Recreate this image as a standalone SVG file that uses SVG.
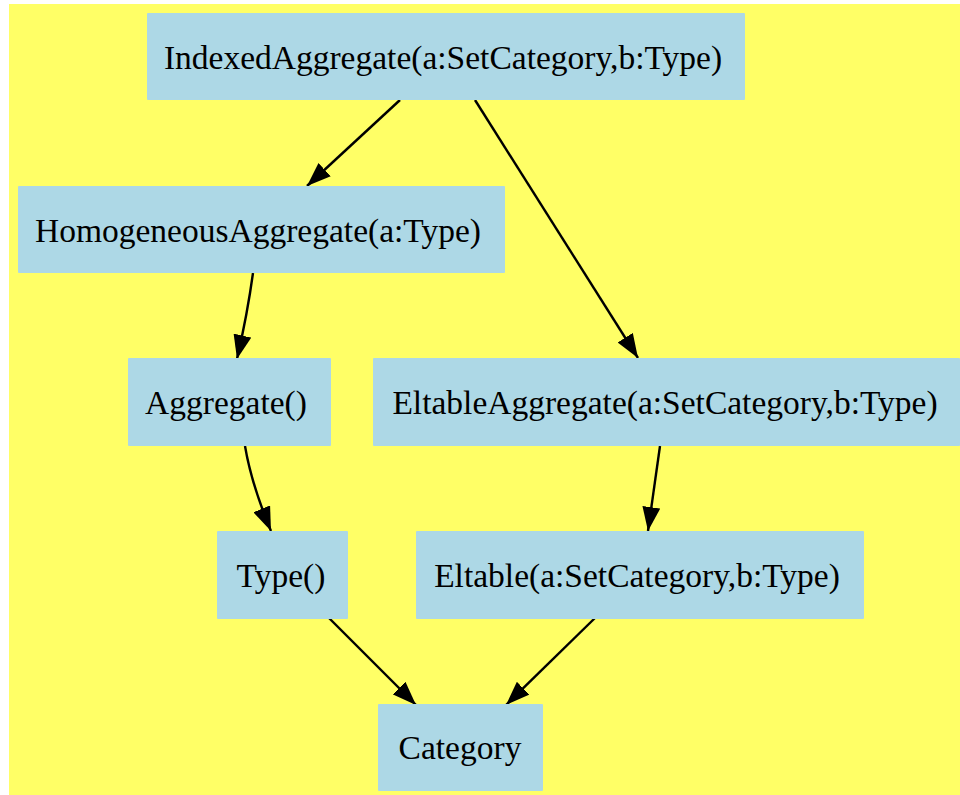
<svg xmlns="http://www.w3.org/2000/svg" width="960" height="795" viewBox="0 0 960 795">
<style>
.node rect{fill:#add8e6;stroke:none}
.node text{font-family:"Liberation Serif","Times New Roman",serif;font-size:33.5px;fill:#000;text-anchor:middle}
.edges path{fill:none;stroke:#000;stroke-width:2.4}
</style>
<defs>
<marker id="arr" viewBox="0 0 24 18" markerWidth="24" markerHeight="18" refX="24" refY="9" orient="auto" markerUnits="userSpaceOnUse">
<path d="M0,0 L24,9 L0,18 Z" fill="#000"/>
</marker>
</defs>
<rect x="9" y="4" width="951" height="791" fill="#ffff66"/>
<g class="edges">
<path d="M400,100 L307,186" marker-end="url(#arr)"/>
<path d="M475,100 L638,358" marker-end="url(#arr)"/>
<path d="M253,273 C250,295 246,320 237,359" marker-end="url(#arr)"/>
<path d="M245,446 C249,470 256,495 271,531" marker-end="url(#arr)"/>
<path d="M660,446 L648,531" marker-end="url(#arr)"/>
<path d="M329,618 L416,705" marker-end="url(#arr)"/>
<path d="M595,618 L506,705" marker-end="url(#arr)"/>
</g>
<g id="IndexedAggregate" class="node"><rect x="147" y="13" width="598" height="87" rx="1"/><text x="443" y="69">IndexedAggregate(a:SetCategory,b:Type)</text></g>
<g id="HomogeneousAggregate" class="node"><rect x="18" y="186" width="487" height="87" rx="1"/><text x="258" y="242">HomogeneousAggregate(a:Type)</text></g>
<g id="Aggregate" class="node"><rect x="128" y="358" width="203" height="88" rx="1"/><text x="226" y="414">Aggregate()</text></g>
<g id="EltableAggregate" class="node"><rect x="373" y="358" width="587" height="88" rx="1"/><text x="665" y="414">EltableAggregate(a:SetCategory,b:Type)</text></g>
<g id="Type" class="node"><rect x="217" y="531" width="131" height="88" rx="1"/><text x="281" y="587">Type()</text></g>
<g id="Eltable" class="node"><rect x="416" y="531" width="448" height="88" rx="1"/><text x="637" y="587">Eltable(a:SetCategory,b:Type)</text></g>
<g id="Category" class="node"><rect x="378" y="704" width="165" height="87" rx="1"/><text x="460" y="759">Category</text></g>
</svg>
